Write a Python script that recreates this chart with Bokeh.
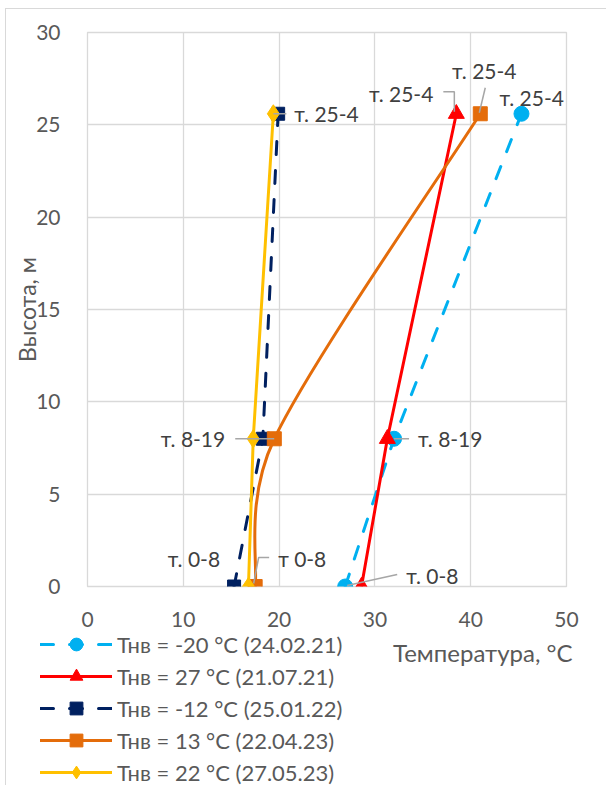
import math
from bokeh.plotting import figure
from bokeh.layouts import column
from bokeh.models import Range1d, Legend, LegendItem, Label, FixedTicker, InlineStyleSheet
from bokeh.embed import file_html
from bokeh.resources import INLINE

# ---------------- data ----------------
heights = [0, 8, 25.6]                      # высота, м
t_m20 = [26.9, 32.0, 45.3]                  # Тнв = -20 °С (24.02.21)
t_p27 = [28.6, 31.3, 38.5]                  # Тнв = 27 °С (21.07.21)
t_m12 = [15.3, 18.3, 19.9]                  # Тнв = -12 °С (25.01.22)
t_p13 = [17.5, 19.5, 41.0]                  # Тнв = 13 °С (22.04.23)
t_p22 = [16.8, 17.3, 19.4]                  # Тнв = 22 °С (27.05.23)
series_names = ["Тнв = -20 °С (24.02.21)", "Тнв = 27 °С (21.07.21)",
                "Тнв = -12 °С (25.01.22)", "Тнв = 13 °С (22.04.23)",
                "Тнв = 22 °С (27.05.23)"]
x_ticks = [0, 10, 20, 30, 40, 50]
y_ticks = [0, 5, 10, 15, 20, 25, 30]
x_title = "Температура, °С"
y_title = "Высота, м"

# ---------------- layout (page pixels) ----------------
PW, PH = 606, 785
OX, OY = 6, 9                     # outer chart border offset (margin + 1px border)
FL, FR, FT, FB = 87, 566, 32, 586 # plot frame on the page
SPLIT = 631                       # page y where the legend strip begins
W = PW - OX
H1 = SPLIT - OY
H2 = PH - SPLIT
XMIN, XMAX, YMIN, YMAX = 0, 50, 0, 30
SX = (FR - FL) / (XMAX - XMIN)
SY = (FB - FT) / (YMAX - YMIN)
FONT = "Lato"
GREY = "#595959"
DARK = "#404040"
COLORS = ["#00B0F0", "#FF0000", "#002060", "#E46C0A", "#FFC000"]

p = figure(width=W, height=H1, output_backend="svg", toolbar_location=None,
           x_range=Range1d(XMIN, XMAX), y_range=Range1d(YMIN, YMAX),
           min_border_left=FL - OX, min_border_right=PW - FR,
           min_border_top=FT - OY, min_border_bottom=SPLIT - FB)
p.frame_align = False
p.background_fill_color = "white"
p.border_fill_color = "white"
p.outline_line_color = "#d9d9d9"
p.outline_line_width = 1.3

for ax in (p.xaxis[0], p.yaxis[0]):
    ax.axis_line_color = None
    ax.major_tick_line_color = None
    ax.minor_tick_line_color = None
    ax.major_label_text_font = FONT
    ax.major_label_text_font_size = "21px"
    ax.major_label_text_color = GREY
p.xaxis.ticker = FixedTicker(ticks=x_ticks)
p.yaxis.ticker = FixedTicker(ticks=y_ticks)
p.xaxis.major_label_standoff = 19
p.yaxis.major_label_standoff = 21
p.yaxis.axis_label = y_title
p.yaxis.axis_label_text_font = FONT
p.yaxis.axis_label_text_font_size = "23px"
p.yaxis.axis_label_text_font_style = "normal"
p.yaxis.axis_label_text_color = GREY
p.yaxis.axis_label_standoff = -8
p.grid.grid_line_color = "#d9d9d9"
p.grid.grid_line_width = 1.3

LW = 3
DASH = "13 16"


def bezier_smooth(xs, ys):
    # spreadsheet-like smoothed line: Catmull-Rom handles (1/6 of the chord),
    # damped where a handle enters a much shorter segment
    n = len(xs)
    pts = list(zip(xs, ys))

    def seglen(a, b):
        return math.hypot((b[0] - a[0]) * SX, (b[1] - a[1]) * SY)

    out = dict(x0=[], y0=[], x1=[], y1=[], cx0=[], cy0=[], cx1=[], cy1=[])
    for i in range(n - 1):
        p0 = pts[max(i - 1, 0)]
        p1 = pts[i]
        p2 = pts[i + 1]
        p3 = pts[min(i + 2, n - 1)]
        L = seglen(p1, p2)
        k0 = min(1.0, (L / seglen(p0, p1)) ** 0.25) if i > 0 else 1.0
        k1 = min(1.0, (L / seglen(p2, p3)) ** 0.25) if i + 2 < n else 1.0
        out["x0"].append(p1[0]); out["y0"].append(p1[1])
        out["x1"].append(p2[0]); out["y1"].append(p2[1])
        out["cx0"].append(p1[0] + k0 * (p2[0] - p0[0]) / 6)
        out["cy0"].append(p1[1] + k0 * (p2[1] - p0[1]) / 6)
        out["cx1"].append(p2[0] - k1 * (p3[0] - p1[0]) / 6)
        out["cy1"].append(p2[1] - k1 * (p3[1] - p1[1]) / 6)
    return out


# series 1: cyan dashed, circles
p.line(t_m20, heights, line_color=COLORS[0], line_width=LW, line_dash=DASH, line_cap="round")
p.scatter(t_m20, heights, marker="circle", size=15, fill_color=COLORS[0], line_color=COLORS[0])
# series 2: red, triangles
p.line(t_p27, heights, line_color=COLORS[1], line_width=LW)
p.scatter(t_p27, heights, marker="triangle", size=16, fill_color=COLORS[1], line_color=COLORS[1])
# series 3: navy dashed, squares
p.line(t_m12, heights, line_color=COLORS[2], line_width=LW, line_dash=DASH, line_cap="round")
p.scatter(t_m12, heights, marker="square", size=13, fill_color=COLORS[2], line_color=COLORS[2])
# series 4: orange smoothed, squares
p.bezier(line_color=COLORS[3], line_width=LW, **bezier_smooth(t_p13, heights))
p.scatter(t_p13, heights, marker="square", size=14, fill_color=COLORS[3], line_color=COLORS[3])
# series 5: yellow, diamonds
p.line(t_p22, heights, line_color=COLORS[4], line_width=LW)
p.scatter(t_p22, heights, marker="diamond", size=18, fill_color=COLORS[4], line_color=COLORS[4])

# data labels: (x series, point index, text, dx px, dy px (up), align, leader polyline px offsets)
labels = [
    (t_p22, 2, "т. 25-4", 21, 0, "left", [(0, 0), (13, 0)]),
    (t_p27, 2, "т. 25-4", -23, 20, "right", [(-13, 22), (-2, 22), (-2, 2)]),
    (t_p13, 2, "т. 25-4", 4, 43, "center", [(5, 26), (-1, 1)]),
    (t_m20, 2, "т. 25-4", -22, 16, "left", None),
    (t_p22, 1, "т. 8-19", -28, 0, "right", [(-18, 0), (21, 0)]),
    (t_m20, 1, "т. 8-19", 24, 0, "left", [(0, 0), (15, 0)]),
    (t_m12, 0, "т. 0-8", -14, 28, "right", None),
    (t_p13, 0, "т 0-8", 23, 28, "left", [(14, 29), (3.5, 29), (-1.5, 3)]),
    (t_m20, 0, "т. 0-8", 61, 11, "left", [(52, 12), (2, 1)]),
]
for xs, i, txt, dx, dy, align, leader in labels:
    ax0, ay0 = xs[i], heights[i]
    if leader:
        p.line([ax0 + ox / SX for ox, oy in leader], [ay0 + oy / SY for ox, oy in leader],
               line_color="#a6a6a6", line_width=1.5)
    p.add_layout(Label(x=ax0 + dx / SX, y=ay0 + dy / SY, text=txt, text_font=FONT,
                       text_font_size="21px", text_color=DARK, text_align=align,
                       text_baseline="middle"))

# ---------------- legend strip ----------------
q = figure(width=W, height=H2, output_backend="svg", toolbar_location=None,
           x_range=Range1d(0, 1), y_range=Range1d(0, 1),
           x_axis_location=None, y_axis_location=None, min_border=0)
q.frame_align = False
q.grid.visible = False
q.outline_line_color = None
q.background_fill_color = "white"
q.border_fill_color = "white"

styles = [
    dict(marker="circle", dash=DASH),
    dict(marker="triangle", dash="solid"),
    dict(marker="square", dash=DASH),
    dict(marker="square", dash="solid"),
    dict(marker="diamond", dash="solid"),
]
items = []
nan = float("nan")
for name, col, st in zip(series_names, COLORS, styles):
    lr = q.line([nan], [nan], line_color=col, line_width=LW, line_dash=st["dash"], line_cap="round")
    sr = q.scatter([nan], [nan], marker=st["marker"], size=15, fill_color=col, line_color=col)
    items.append(LegendItem(label=name, renderers=[lr, sr]))

ROW = 32
legend = Legend(items=items, location=(40 - OX, -3),
                label_text_font=FONT, label_text_font_size="22px", label_text_color=GREY,
                glyph_width=72, glyph_height=ROW, label_height=ROW, spacing=0,
                label_standoff=5, padding=0, margin=0,
                border_line_color=None, background_fill_alpha=0)
q.add_layout(legend)

q.add_layout(Label(x=572 - OX, y=H2 - (652 - SPLIT), x_units="screen", y_units="screen",
                   text=x_title, text_font=FONT, text_font_size="24px",
                   text_color=GREY, text_align="right", text_baseline="middle"))

layout = column(p, q, spacing=0,
                styles={"margin-left": "5px", "margin-top": "8px"},
                stylesheets=[InlineStyleSheet(css=":host { border-left: 1px solid #d9d9d9 !important; border-top: 1px solid #d9d9d9 !important; }")])

open("out.html", "w").write(file_html(layout, INLINE))
